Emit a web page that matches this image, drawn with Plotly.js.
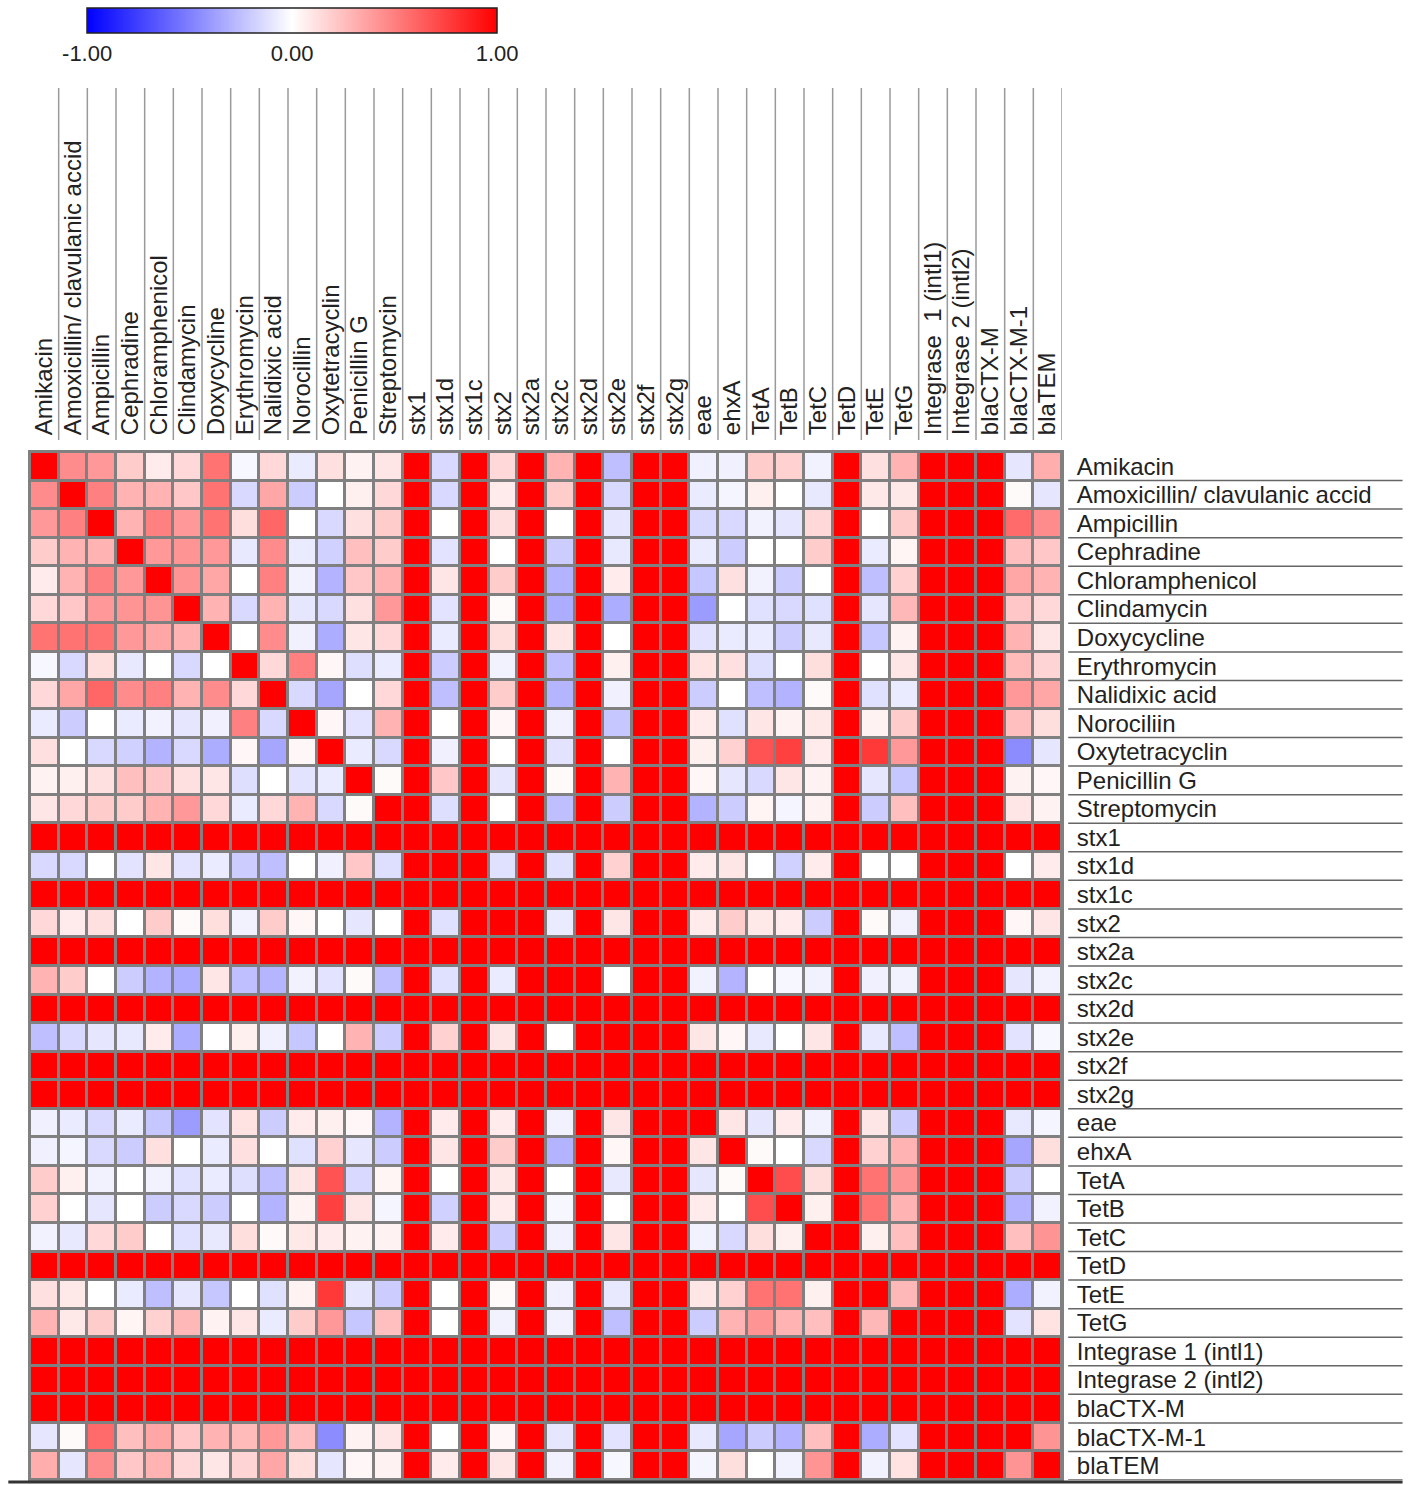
<!DOCTYPE html>
<html>
<head>
<meta charset="utf-8">
<script src="https://cdn.plot.ly/plotly-3.0.1.min.js"></script>
<style>html,body{margin:0;padding:0;background:#fff;}#chart{width:1418px;height:1485px;}</style>
</head>
<body>
<div id="chart"></div>
<script>
// Column labels (top) and row labels (right), as printed in the figure
const xLabels = ["Amikacin","Amoxicillin/ clavulanic accid","Ampicillin","Cephradine","Chloramphenicol","Clindamycin","Doxycycline","Erythromycin","Nalidixic acid","Norocillin","Oxytetracyclin","Penicillin G","Streptomycin","stx1","stx1d","stx1c","stx2","stx2a","stx2c","stx2d","stx2e","stx2f","stx2g","eae","ehxA","TetA","TetB","TetC","TetD","TetE","TetG","Integrase  1 (intl1)","Integrase 2 (intl2)","blaCTX-M","blaCTX-M-1","blaTEM"];
const yLabels = ["Amikacin","Amoxicillin/ clavulanic accid","Ampicillin","Cephradine","Chloramphenicol","Clindamycin","Doxycycline","Erythromycin","Nalidixic acid","Norociliin","Oxytetracyclin","Penicillin G","Streptomycin","stx1","stx1d","stx1c","stx2","stx2a","stx2c","stx2d","stx2e","stx2f","stx2g","eae","ehxA","TetA","TetB","TetC","TetD","TetE","TetG","Integrase 1 (intl1)","Integrase 2 (intl2)","blaCTX-M","blaCTX-M-1","blaTEM"];

// Correlation rows (one per row label)
const rAmikacin   = [1,.45,.4,.2,.08,.15,.55,-.03,.15,-.08,.12,.05,.1,1,-.15,1,.15,1,.3,1,-.25,1,1,-.06,-.06,.2,.18,-.05,1,.12,.3,1,1,1,-.1,.32];
const rAmoxClav   = [.45,1,.5,.3,.3,.22,.55,-.15,.35,-.2,0,.06,.15,1,-.15,1,.08,1,.2,1,-.15,1,1,-.08,-.04,.06,0,-.09,1,.09,.09,1,1,1,.02,-.1];
const rAmpicillin = [.4,.5,1,.3,.5,.4,.55,.13,.6,0,-.15,.12,.2,1,0,1,.12,1,0,1,-.1,1,1,-.15,-.15,-.05,-.1,.15,1,0,.2,1,1,1,.58,.45];
const rCephradine = [.2,.3,.3,1,.4,.42,.4,-.09,.45,-.08,-.18,.25,.2,1,-.11,1,0,1,-.2,1,-.09,1,1,-.08,-.2,0,0,.2,1,-.08,.04,1,1,1,.25,.22];
const rChloramph  = [.08,.3,.5,.4,1,.42,.35,0,.5,-.05,-.3,.22,.3,1,.1,1,.2,1,-.3,1,.08,1,1,-.22,.12,-.05,-.2,0,1,-.25,.18,1,1,1,.35,.3];
const rClindamyc  = [.15,.22,.4,.42,.42,1,.3,-.15,.3,-.1,-.15,.12,.4,1,-.11,1,.02,1,-.32,1,-.32,1,1,-.39,0,-.12,-.15,-.12,1,-.1,.28,1,1,1,.22,.15];
const rDoxycycl   = [.55,.55,.55,.4,.35,.3,1,0,.45,-.06,-.32,.1,.15,1,-.08,1,.13,1,.1,1,0,1,1,-.11,-.08,-.08,-.2,-.09,1,-.22,.05,1,1,1,.3,.1];
const rErythro    = [-.03,-.15,.13,-.09,0,-.15,0,1,.15,.5,.03,-.13,-.08,1,-.2,1,-.05,1,-.25,1,.06,1,1,.11,.12,-.13,0,.13,1,0,.1,1,1,1,.27,.17];
const rNalidixic  = [.15,.35,.6,.45,.5,.3,.45,.15,1,-.15,-.35,0,.15,1,-.25,1,.2,1,-.29,1,-.06,1,1,-.2,0,-.25,-.3,.02,1,-.12,-.08,1,1,1,.4,.35];
const rNorocillin = [-.08,-.2,0,-.08,-.05,-.1,-.06,.5,-.15,1,.03,-.11,.3,1,0,1,.03,1,-.05,1,-.22,1,1,.08,-.12,.1,.05,.09,1,.05,.2,1,1,1,.25,.13];
const rOxytetra   = [.12,0,-.15,-.18,-.3,-.15,-.32,.03,-.35,.03,1,-.08,-.15,1,-.06,1,0,1,-.11,1,0,1,1,.06,.18,.68,.75,.08,1,.78,.4,1,1,1,-.45,-.1];
const rPenicillin = [.05,.06,.12,.25,.22,.12,.1,-.13,0,-.11,-.08,1,.02,1,.22,1,-.1,1,.02,1,.3,1,1,.03,-.1,-.15,.1,.05,1,-.1,-.22,1,1,1,.05,.03];
const rStrepto    = [.1,.15,.2,.2,.3,.4,.15,-.08,.15,.3,-.15,.02,1,1,-.13,1,0,1,-.25,1,-.2,1,1,-.3,-.2,.04,-.04,.05,1,-.2,.25,1,1,1,.1,.05];
const rStx1       = [1,1,1,1,1,1,1,1,1,1,1,1,1,1,1,1,1,1,1,1,1,1,1,1,1,1,1,1,1,1,1,1,1,1,1,1];
const rStx1d      = [-.15,-.15,0,-.11,.1,-.11,-.08,-.2,-.25,0,-.06,.22,-.13,1,1,1,-.12,1,-.12,1,.18,1,1,.08,.1,0,-.18,.08,1,0,0,1,1,1,0,.08];
const rStx1c      = [1,1,1,1,1,1,1,1,1,1,1,1,1,1,1,1,1,1,1,1,1,1,1,1,1,1,1,1,1,1,1,1,1,1,1,1];
const rStx2       = [.15,.08,.12,0,.2,.02,.13,-.05,.2,.03,0,-.1,0,1,-.12,1,1,1,-.08,1,.1,1,1,.08,.2,.09,.08,-.2,1,.02,-.05,1,1,1,.03,.1];
const rStx2a      = [1,1,1,1,1,1,1,1,1,1,1,1,1,1,1,1,1,1,1,1,1,1,1,1,1,1,1,1,1,1,1,1,1,1,1,1];
const rStx2c      = [.3,.2,0,-.2,-.3,-.32,.1,-.25,-.29,-.05,-.11,.02,-.25,1,-.12,1,-.08,1,1,1,0,1,1,-.05,-.3,0,-.03,-.05,1,-.06,-.05,1,1,1,-.1,-.05];
const rStx2d      = [1,1,1,1,1,1,1,1,1,1,1,1,1,1,1,1,1,1,1,1,1,1,1,1,1,1,1,1,1,1,1,1,1,1,1,1];
const rStx2e      = [-.25,-.15,-.1,-.09,.08,-.32,0,.06,-.06,-.22,0,.3,-.2,1,.18,1,.1,1,0,1,1,1,1,.1,.03,-.09,0,.1,1,-.09,-.25,1,1,1,-.11,-.03];
const rStx2f      = [1,1,1,1,1,1,1,1,1,1,1,1,1,1,1,1,1,1,1,1,1,1,1,1,1,1,1,1,1,1,1,1,1,1,1,1];
const rStx2g      = [1,1,1,1,1,1,1,1,1,1,1,1,1,1,1,1,1,1,1,1,1,1,1,1,1,1,1,1,1,1,1,1,1,1,1,1];
const rEae        = [-.06,-.08,-.15,-.08,-.22,-.39,-.11,.11,-.2,.08,.06,.03,-.3,1,.08,1,.08,1,-.05,1,.1,1,1,1,.1,-.1,.08,-.05,1,.1,-.2,1,1,1,-.09,-.04];
const rEhxA       = [-.06,-.04,-.15,-.2,.12,0,-.08,.12,0,-.12,.18,-.1,-.2,1,.1,1,.2,1,-.3,1,.03,1,1,.1,1,.02,0,-.15,1,.18,.3,1,1,1,-.35,.13];
const rTetA       = [.2,.06,-.05,0,-.05,-.12,-.08,-.13,-.25,.1,.68,-.15,.04,1,0,1,.09,1,0,1,-.09,1,1,-.1,.02,1,.7,.13,1,.55,.42,1,1,1,-.2,0];
const rTetB       = [.18,0,-.1,0,-.2,-.15,-.2,0,-.3,.05,.75,.1,-.04,1,-.18,1,.08,1,-.03,1,0,1,1,.08,0,.7,1,.06,1,.55,.3,1,1,1,-.3,-.05];
const rTetC       = [-.05,-.09,.15,.2,0,-.12,-.09,.13,.02,.09,.08,.05,.05,1,.08,1,-.2,1,-.05,1,.1,1,1,-.05,-.15,.13,.06,1,1,.06,.25,1,1,1,.25,.42];
const rTetD       = [1,1,1,1,1,1,1,1,1,1,1,1,1,1,1,1,1,1,1,1,1,1,1,1,1,1,1,1,1,1,1,1,1,1,1,1];
const rTetE       = [.12,.09,0,-.08,-.25,-.1,-.22,0,-.12,.05,.78,-.1,-.2,1,0,1,.02,1,-.06,1,-.09,1,1,.1,.18,.55,.55,.06,1,1,.28,1,1,1,-.32,-.05];
const rTetG       = [.3,.09,.2,.04,.18,.28,.05,.1,-.08,.2,.4,-.22,.25,1,0,1,-.05,1,-.05,1,-.25,1,1,-.2,.3,.42,.3,.25,1,.28,1,1,1,1,-.11,.11];
const rInt1       = [1,1,1,1,1,1,1,1,1,1,1,1,1,1,1,1,1,1,1,1,1,1,1,1,1,1,1,1,1,1,1,1,1,1,1,1];
const rInt2       = [1,1,1,1,1,1,1,1,1,1,1,1,1,1,1,1,1,1,1,1,1,1,1,1,1,1,1,1,1,1,1,1,1,1,1,1];
const rCTXM       = [1,1,1,1,1,1,1,1,1,1,1,1,1,1,1,1,1,1,1,1,1,1,1,1,1,1,1,1,1,1,1,1,1,1,1,1];
const rCTXM1      = [-.1,.02,.58,.25,.35,.22,.3,.27,.4,.25,-.45,.05,.1,1,0,1,.03,1,-.1,1,-.11,1,1,-.09,-.35,-.2,-.3,.25,1,-.32,-.11,1,1,1,1,.42];
const rTEM        = [.32,-.1,.45,.22,.3,.15,.1,.17,.35,.13,-.1,.03,.05,1,.08,1,.1,1,-.05,1,-.03,1,1,-.04,.13,0,-.05,.42,1,-.05,.11,1,1,1,.42,1];

const zRows = [rAmikacin,rAmoxClav,rAmpicillin,rCephradine,rChloramph,rClindamyc,rDoxycycl,rErythro,rNalidixic,rNorocillin,rOxytetra,rPenicillin,rStrepto,rStx1,rStx1d,rStx1c,rStx2,rStx2a,rStx2c,rStx2d,rStx2e,rStx2f,rStx2g,rEae,rEhxA,rTetA,rTetB,rTetC,rTetD,rTetE,rTetG,rInt1,rInt2,rCTXM,rCTXM1,rTEM];

const colorbarTicks = [-1, 0, 1];
const colorbarTickText = ["-1.00", "0.00", "1.00"];

const n = xLabels.length;
const idx = xLabels.map((_, i) => i);

const trace = {
  type: 'heatmap',
  z: zRows,
  x: idx,
  y: idx,
  zmin: -1, zmax: 1,
  colorscale: [[0, '#0000ff'], [0.5, '#ffffff'], [1, '#ff0000']],
  xgap: 3, ygap: 3,
  colorbar: {
    orientation: 'h',
    lenmode: 'pixels', len: 410,
    thickness: 25,
    x: 0.254, xanchor: 'center',
    y: 1.4315, yanchor: 'top',
    xpad: 0, ypad: 0,
    outlinecolor: '#222', outlinewidth: 1.5,
    tickvals: colorbarTicks, ticktext: colorbarTickText,
    ticks: '', ticklen: 0,
    tickfont: {family: 'Liberation Sans, Arial, sans-serif', size: 22, color: '#222'}
  }
};

const shapes = [];
// vertical separators between top labels
for (let k = 0; k < n; k++) {
  shapes.push({type: 'line', xref: 'x', yref: 'paper', x0: k + 0.5, x1: k + 0.5, y0: 1.0117, y1: 1.354,
    line: {color: '#9a9a9a', width: 1.5}, layer: 'above'});
}
// horizontal separators under right labels
for (let k = 0; k < n; k++) {
  shapes.push({type: 'line', xref: 'paper', yref: 'y', x0: 1.006, x1: 1.33, y0: k + 0.5, y1: k + 0.5,
    line: {color: '#666', width: 1.5}, layer: 'above'});
}
// bottom rule
shapes.push({type: 'line', xref: 'paper', yref: 'paper', x0: -0.021, x1: 1.33, y0: -0.002, y1: -0.002,
  line: {color: '#333', width: 3}});

const font = {family: 'Liberation Sans, Arial, sans-serif', size: 24, color: '#222'};

const layout = {
  width: 1418, height: 1485,
  margin: {l: 30, r: 356, t: 452, b: 5},
  paper_bgcolor: '#ffffff',
  plot_bgcolor: '#808080',
  font: font,
  showlegend: false,
  xaxis: {
    side: 'top', range: [-0.5, n - 0.5],
    tickvals: idx, ticktext: xLabels, tickangle: -90,
    ticks: 'outside', ticklen: 10, tickcolor: 'rgba(0,0,0,0)',
    showgrid: false, zeroline: false,
    showline: true, mirror: true, linecolor: '#808080', linewidth: 2,
    tickfont: font, fixedrange: true
  },
  yaxis: {
    side: 'right', range: [n - 0.5, -0.5],
    tickvals: idx, ticktext: yLabels,
    ticks: 'outside', ticklen: 8, tickcolor: 'rgba(0,0,0,0)',
    showgrid: false, zeroline: false,
    showline: true, mirror: true, linecolor: '#808080', linewidth: 2,
    tickfont: font, fixedrange: true
  },
  shapes: shapes
};

Plotly.newPlot('chart', [trace], layout, {displayModeBar: false, staticPlot: true});
</script>
</body>
</html>
